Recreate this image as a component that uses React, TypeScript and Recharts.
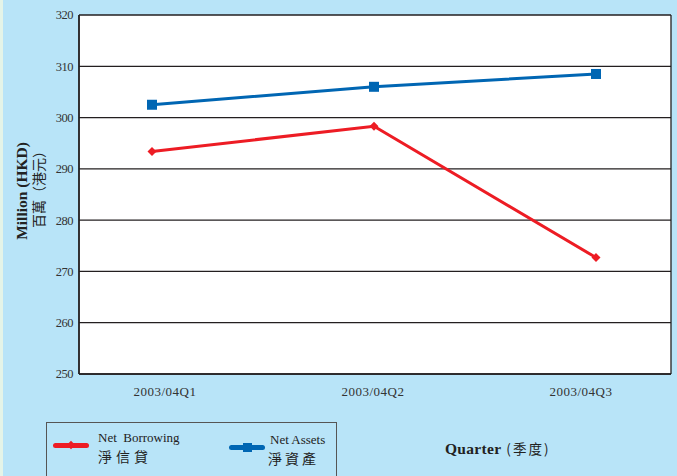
import React from 'react';
import {
  LineChart,
  Line,
  XAxis,
  YAxis,
  CartesianGrid,
} from 'recharts';

// values (HKD million)
const quarters = ['2003/04Q1', '2003/04Q2', '2003/04Q3'];
const netBorrowing = [293.4, 298.3, 272.7];
const netAssets = [302.5, 306.0, 308.5];
const yTicks = [250, 260, 270, 280, 290, 300, 310, 320];

const data = quarters.map((q, i) => ({
  quarter: q,
  borrowing: netBorrowing[i],
  assets: netAssets[i],
}));

const RED = '#ed1c24';
const BLUE = '#0066b3';
const INK = '#231f20';
const BG = '#b8e4f8';
const TEXT = '#222';
const SERIF = '"Liberation Serif", "Times New Roman", serif';
const CJK = '"Noto Sans CJK TC", "Noto Sans CJK SC", sans-serif';

// diamond marker for the red series
const Diamond = (props: any) => {
  const { cx, cy } = props;
  if (cx == null || cy == null) return null;
  const r = 4.5;
  return (
    <path
      d={`M${cx},${cy - r}L${cx + r},${cy}L${cx},${cy + r}L${cx - r},${cy}Z`}
      fill={RED}
    />
  );
};

// square marker for the blue series
const Square = (props: any) => {
  const { cx, cy } = props;
  if (cx == null || cy == null) return null;
  const s = 10;
  return <rect x={cx - s / 2} y={cy - s / 2} width={s} height={s} fill={BLUE} />;
};

const abs = (left: number, top: number, extra: React.CSSProperties = {}) =>
  ({ position: 'absolute', left, top, whiteSpace: 'nowrap', ...extra } as React.CSSProperties);

const App = () => {
  return (
    <div
      style={{
        position: 'absolute',
        left: 0,
        top: 0,
        width: 677,
        height: 476,
        background: BG,
        overflow: 'hidden',
      }}
    >
      {/* thin pale strip on the left edge */}
      <div style={abs(0, 0, { width: 3, height: 476, background: '#e4f4e8' })} />
      <LineChart
        width={677}
        height={476}
        data={data}
        margin={{ top: 15, right: 6, bottom: 72, left: 0 }}
      >
        <CartesianGrid
          xAxisId="lbl"
          fill="#ffffff"
          stroke={INK}
          strokeWidth={1.3}
          horizontal
          vertical
          verticalCoordinatesGenerator={({ offset }: any) => [
            offset.left,
            offset.left + offset.width,
          ]}
        />
        {/* the points sit a bit wider apart than the tick labels */}
        <XAxis
          xAxisId="pts"
          dataKey="quarter"
          hide
          padding={{ left: 73, right: 75 }}
        />
        <XAxis
          xAxisId="lbl"
          dataKey="quarter"
          padding={{ left: 86, right: 90 }}
          height={30}
          tickLine={false}
          tickSize={0}
          tickMargin={13}
          axisLine={{ stroke: INK, strokeWidth: 1.5 }}
          tick={{ fill: '#333', fontSize: 13, fontFamily: SERIF, letterSpacing: 0.5 }}
        />
        <YAxis
          width={79}
          domain={[250, 320]}
          ticks={yTicks}
          tickLine={false}
          tickSize={0}
          tickMargin={6}
          axisLine={{ stroke: INK, strokeWidth: 1.5 }}
          tick={{ fill: '#333', fontSize: 12.5, fontFamily: SERIF, letterSpacing: -0.5 }}
          interval={0}
        />
        <Line
          xAxisId="pts"
          dataKey="assets"
          stroke={BLUE}
          strokeWidth={3}
          dot={<Square />}
          activeDot={false}
          isAnimationActive={false}
        />
        <Line
          xAxisId="pts"
          dataKey="borrowing"
          stroke={RED}
          strokeWidth={3}
          dot={<Diamond />}
          activeDot={false}
          isAnimationActive={false}
        />
      </LineChart>

      {/* y axis title */}
      <div
        style={abs(22, 191, {
          transform: 'translate(-50%, -50%) rotate(-90deg)',
          fontFamily: SERIF,
          fontWeight: 'bold',
          fontSize: 15.5,
          color: TEXT,
        })}
      >
        Million (HKD)
      </div>
      <div
        style={abs(38, 186, {
          transform: 'translate(-50%, -50%) rotate(-90deg)',
          fontFamily: CJK,
          fontSize: 14,
          color: TEXT,
        })}
      >
        百萬（港元）
      </div>

      {/* legend box */}
      <div style={abs(46, 422, { width: 289, height: 70, border: '1px solid #555' })} />

      <div style={abs(53, 443, { width: 36, height: 5, borderRadius: 3, background: RED })} />
      <div
        style={abs(68, 442, {
          width: 6,
          height: 6,
          background: RED,
          transform: 'rotate(45deg)',
        })}
      />
      <div style={abs(98, 431, { fontFamily: SERIF, fontSize: 13, lineHeight: '13px', color: TEXT })}>
        Net&nbsp; Borrowing
      </div>
      <div
        style={abs(98, 449, {
          fontFamily: CJK,
          fontSize: 14,
          lineHeight: '14px',
          letterSpacing: 4,
          color: TEXT,
        })}
      >
        淨信貸
      </div>

      <div style={abs(229, 445, { width: 36, height: 5, borderRadius: 3, background: BLUE })} />
      <div style={abs(243, 443, { width: 9, height: 9, background: BLUE })} />
      <div style={abs(270, 433, { fontFamily: SERIF, fontSize: 13, lineHeight: '13px', color: TEXT })}>
        Net Assets
      </div>
      <div
        style={abs(268, 451, {
          fontFamily: CJK,
          fontSize: 14,
          lineHeight: '14px',
          letterSpacing: 3,
          color: TEXT,
        })}
      >
        淨資產
      </div>

      {/* x axis title */}
      <div
        style={abs(445, 441, {
          fontFamily: SERIF,
          fontWeight: 'bold',
          fontSize: 15.5,
          lineHeight: '15px',
          letterSpacing: 0.3,
          color: TEXT,
        })}
      >
        Quarter
        <span
          style={{
            fontFamily: CJK,
            fontWeight: 'normal',
            fontSize: 13.5,
            letterSpacing: 2,
            marginLeft: 5,
          }}
        >
          (季度)
        </span>
      </div>
    </div>
  );
};

export default App;
